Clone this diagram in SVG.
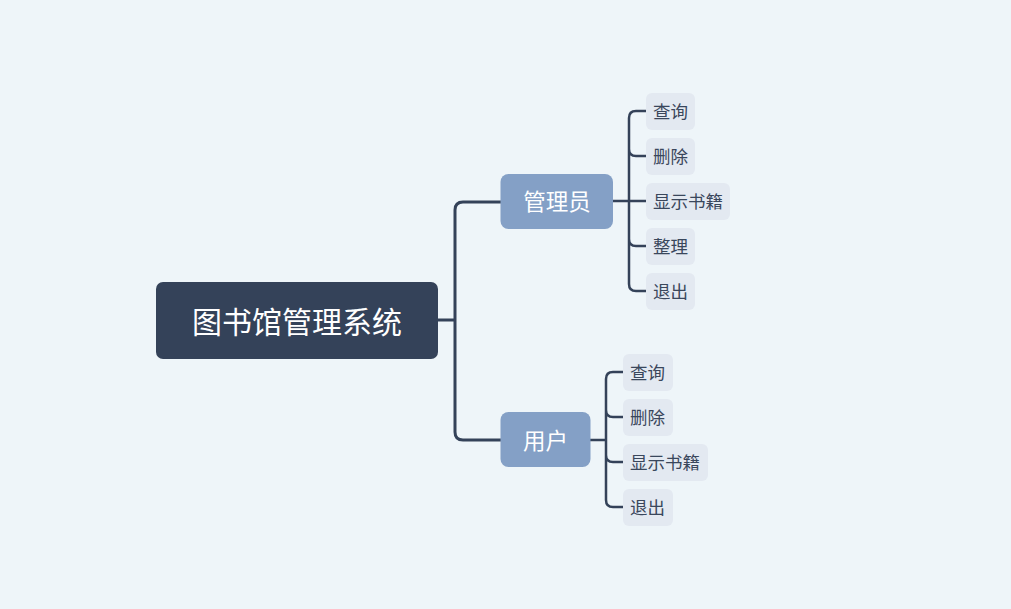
<svg xmlns="http://www.w3.org/2000/svg" width="1011" height="609" viewBox="0 0 1011 609">
<style>
.root{fill:#344259}
.sub{fill:#84a0c6}
.leaf{fill:#e3e9f1}
.t{font-family:"Noto Sans CJK SC","Noto Sans",sans-serif;}
.rt{fill:#ffffff;font-size:30px}
.st{fill:#ffffff;font-size:22.5px}
.lt{fill:#3a475c;font-size:17.5px}
.c{fill:none;stroke:#344259;stroke-linecap:round;stroke-linejoin:round}
</style>
<rect width="1011" height="609" fill="#eef5f9"/>
<g id="connectors">
<path class="c" stroke-width="3" d="M438,320 H455 M501,202 H463 Q455,202 455,210 V432 Q455,440 463,440 H501"/>
<path class="c" stroke-width="2.5" d="M613,201 H646 M646,111 H636 Q629,111 629,118 V284 Q629,291 636,291 H646 M629,149 Q629,156 636,156 H646 M629,239 Q629,246 636,246 H646"/>
<path class="c" stroke-width="2.5" d="M590,440 H606 M623,372 H613 Q606,372 606,379 V500 Q606,507 613,507 H623 M606,410 Q606,417 613,417 H623 M606,455 Q606,462 613,462 H623"/>
</g>
<g id="root">
<rect class="root" x="156" y="282" width="282" height="77" rx="7"/>
<text class="t rt" x="297" y="319.5" text-anchor="middle" dominant-baseline="central">图书馆管理系统</text>
</g>
<g id="admin">
<rect class="sub" x="500.5" y="174" width="112.5" height="55" rx="8"/>
<text class="t st" x="557" y="200" text-anchor="middle" dominant-baseline="central">管理员</text>
</g>
<g id="user">
<rect class="sub" x="500.5" y="412" width="90" height="55" rx="8"/>
<text class="t st" x="545.5" y="438.5" text-anchor="middle" dominant-baseline="central">用户</text>
</g>
<g id="a1"><rect class="leaf" x="646" y="93" width="49" height="37" rx="6"/><text class="t lt" x="653" y="110.5" dominant-baseline="central">查询</text></g>
<g id="a2"><rect class="leaf" x="646" y="138" width="49" height="37" rx="6"/><text class="t lt" x="653" y="155.5" dominant-baseline="central">删除</text></g>
<g id="a3"><rect class="leaf" x="646" y="183" width="84" height="37" rx="6"/><text class="t lt" x="653" y="200.5" dominant-baseline="central">显示书籍</text></g>
<g id="a4"><rect class="leaf" x="646" y="228" width="49" height="37" rx="6"/><text class="t lt" x="653" y="245.5" dominant-baseline="central">整理</text></g>
<g id="a5"><rect class="leaf" x="646" y="273" width="49" height="37" rx="6"/><text class="t lt" x="653" y="290.5" dominant-baseline="central">退出</text></g>
<g id="u1"><rect class="leaf" x="623" y="354" width="50" height="37" rx="6"/><text class="t lt" x="630" y="371.5" dominant-baseline="central">查询</text></g>
<g id="u2"><rect class="leaf" x="623" y="399" width="50" height="37" rx="6"/><text class="t lt" x="630" y="416.5" dominant-baseline="central">删除</text></g>
<g id="u3"><rect class="leaf" x="623" y="444" width="85" height="37" rx="6"/><text class="t lt" x="630" y="461.5" dominant-baseline="central">显示书籍</text></g>
<g id="u4"><rect class="leaf" x="623" y="489" width="50" height="37" rx="6"/><text class="t lt" x="630" y="506.5" dominant-baseline="central">退出</text></g>
</svg>
